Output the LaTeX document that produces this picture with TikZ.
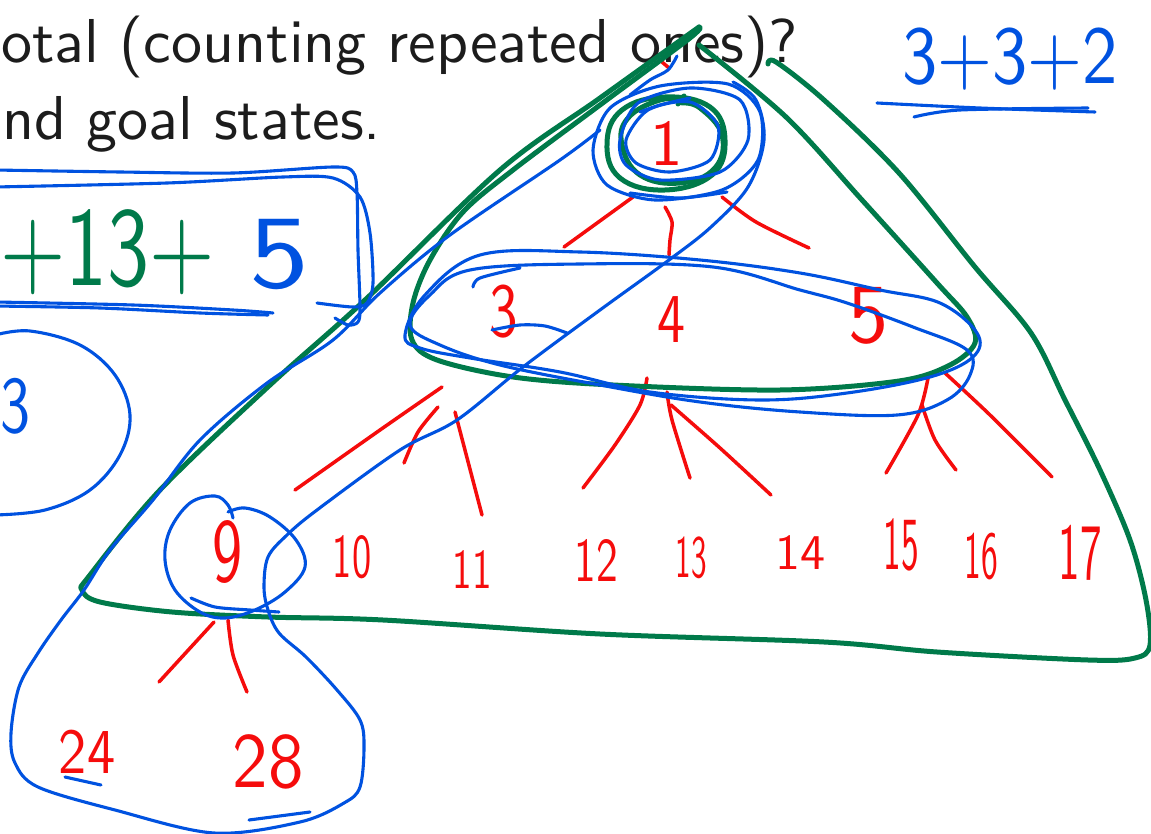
\documentclass[tikz,border=0pt]{standalone}
\usepackage{fontspec}
\usepackage{graphicx}
\newfontfamily\slidefont[Extension=.otf]{lmsans10-regular}
\definecolor{penblue}{RGB}{0,82,224}
\definecolor{pengreen}{RGB}{0,122,74}
\definecolor{penred}{RGB}{245,12,12}
\definecolor{slidetext}{RGB}{28,28,28}
\newcommand{\hwnum}[3]{{\fontsize{#1}{#1}\selectfont\scalebox{#2}[1]{#3}}}
\begin{document}
\begin{tikzpicture}[x=1pt,y=-1pt,
 bl/.style={draw=penblue,line width=3.1pt,line cap=round,line join=round},
 gr/.style={draw=pengreen,line width=5pt,line cap=round,line join=round},
 rd/.style={draw=penred,line width=3.5pt,line cap=round,line join=round},
 slide/.style={inner sep=0pt,anchor=base west,text=slidetext,font=\slidefont\fontsize{62}{70}\selectfont},
 hwred/.style={inner sep=0pt,text=penred,font=\slidefont},
 hwblue/.style={inner sep=0pt,text=penblue,font=\slidefont},
 hwgreen/.style={inner sep=0pt,text=pengreen,font=\slidefont}]
\useasboundingbox (0,0) rectangle (1151,834);
\clip (0,0) rectangle (1151,834);
\fill[white] (0,0) rectangle (1151,834);

% slide text
\node[slide] (q1) at (1,63) {otal (counting repeated ones)?};
\node[slide] (q2) at (2,140) {nd goal states.};

% red tree labels
\node[hwred] (n1) at (667,143) {\hwnum{65}{1}{1}};
\node[hwred] (n3) at (504,312) {\hwnum{76}{0.75}{3}};
\node[hwred] (n4) at (671,320) {\hwnum{70}{0.8}{4}};
\node[hwred] (n5) at (868,316) {\hwnum{84}{0.95}{5}};
\node[hwred] (n9) at (228,552) {\hwnum{90}{0.67}{9}};
\node[hwred] (n10) at (352,557) {\hwnum{62}{0.62}{10}};
\node[hwred] (n11) at (472,570) {\hwnum{56}{0.7}{11}};
\node[hwred] (n12) at (596,560) {\hwnum{62}{0.7}{12}};
\node[hwred] (n13) at (691,558) {\hwnum{60}{0.52}{13}};
\node[hwred] (n14) at (800,553) {\hwnum{50}{1}{14}};
\node[hwred] (n15) at (901,545) {\hwnum{75}{0.47}{15}};
\node[hwred] (n16) at (981,557) {\hwnum{67}{0.5}{16}};
\node[hwred] (n17) at (1080,553) {\hwnum{80}{0.54}{17}};
\node[hwred] (n24) at (87,752) {\hwnum{64}{0.88}{24}};
\node[hwred] (n28) at (268,762) {\hwnum{78}{0.91}{28}};

% red tree edges
\draw[rd] (662,62) -- (669,68);
\draw[rd] (633,197) -- (564,247);
\draw[rd] plot[smooth] coordinates {(665,207) (672,222) (670,240) (669,255)};
\draw[rd] plot[smooth] coordinates {(722,197) (756,222) (809,248)};
\draw[rd] plot[smooth] coordinates {(442,387) (380,430) (295,490)};
\draw[rd] plot[smooth] coordinates {(438,407) (418,432) (404,463)};
\draw[rd] (455,412) -- (482,515);
\draw[rd] plot[smooth] coordinates {(647,378) (640,405) (615,445) (583,488)};
\draw[rd] plot[smooth] coordinates {(667,392) (672,420) (690,478)};
\draw[rd] plot[smooth] coordinates {(671,405) (720,448) (771,495)};
\draw[rd] plot[smooth] coordinates {(928,378) (918,415) (886,473)};
\draw[rd] plot[smooth] coordinates {(922,405) (935,440) (956,470)};
\draw[rd] plot[smooth] coordinates {(945,373) (990,415) (1052,477)};
\draw[rd] (214,622) -- (159,682);
\draw[rd] plot[smooth] coordinates {(228,620) (233,655) (247,692)};

% green annotations
\node[hwgreen,anchor=west] (g1) at (0,252) {\hwnum{112}{0.75}{+13+}};
\draw[gr] plot[smooth,tension=0.55] coordinates {(768,64) (776,62) (824,100) (899,173) (975,267) (1031,333) (1065,400) (1100,470) (1130,540) (1146,600) (1150,645) (1135,658) (1088,660) (937,652) (824,642) (600,634) (383,620) (268,617) (172,612) (100,602) (82,590) (90,575) (160,490) (270,385) (365,300) (500,170) (600,98) (699,27)};
\draw[gr] plot[smooth,tension=0.55] coordinates {(699,27) (690,38) (600,105) (513,170) (463,212) (430,260) (413,303) (412,340) (437,360) (513,377) (613,385) (780,390) (899,381) (950,365) (975,343) (967,317) (937,283) (862,200) (786,117) (699,45)};
\draw[gr] plot[smooth cycle,tension=0.7] coordinates {(607,143) (622,110) (665,97) (710,107) (725,140) (712,175) (665,190) (620,178)};
\draw[gr] plot[smooth,tension=0.7] coordinates {(688,100) (660,100) (628,118) (622,145) (640,175) (680,183) (715,168) (722,135) (700,108) (682,103)};
\draw[gr] (678,104) -- (684,96);

% blue annotations
\node[hwblue] (b5) at (279,255) {\hwnum{104}{1.15}{5}};
\node[hwblue,anchor=west] (b3) at (0,406) {\hwnum{80}{0.75}{3}};
\node[hwblue,anchor=base] (sum) at (1010,84) {\hwnum{82}{0.86}{3+3+2}};
\draw[bl] plot[smooth] coordinates {(877,103) (980,108) (1095,112)};
\draw[bl] plot[smooth] coordinates {(914,117) (960,110) (1088,108)};

% box around +13+5
\draw[bl] plot[smooth,tension=0.5] coordinates {(-5,170) (120,172) (233,173) (333,167) (353,172) (357,193) (358,250) (360,307) (358,322) (348,325) (335,318)};
\draw[bl] plot[smooth,tension=0.5] coordinates {(-5,187) (167,183) (283,177) (333,178) (360,197) (370,233) (373,283) (367,303) (353,307) (317,303)};
\draw[bl] plot[smooth,tension=0.5] coordinates {(-5,302) (133,305) (233,310) (273,313)};
\draw[bl] plot[smooth,tension=0.5] coordinates {(-5,306) (100,308) (200,313) (268,315)};
% left circle
\draw[bl] plot[smooth,tension=0.6] coordinates {(-5,335) (30,331) (80,345) (115,375) (130,415) (120,455) (90,490) (45,510) (-5,515)};

% loops around 1
\draw[bl] plot[smooth cycle] coordinates {(593,150) (610,108) (660,86) (728,84) (760,112) (758,160) (722,190) (655,200) (607,185)};
\draw[bl] plot[smooth cycle] coordinates {(620,140) (638,103) (690,88) (740,100) (748,140) (720,172) (660,180) (626,165)};
\draw[bl] plot[smooth cycle] coordinates {(626,140) (648,110) (690,102) (718,126) (710,160) (670,172) (636,163)};
\draw[bl] plot[smooth] coordinates {(677,56) (668,70) (650,80) (630,95)};
\draw[bl] plot[smooth] coordinates {(640,112) (660,105) (690,98)};
\draw[bl] plot[smooth] coordinates {(630,193) (680,198) (727,192)};

% loops around 3 4 5
\draw[bl] plot[smooth cycle,tension=0.6] coordinates {(405,335) (425,295) (480,255) (580,252) (700,260) (800,273) (880,290) (940,303) (977,333) (973,357) (930,377) (847,393) (760,400) (650,392) (560,372) (470,358) (420,348)};
\draw[bl] plot[smooth cycle,tension=0.6] coordinates {(410,325) (430,295) (470,270) (580,264) (713,267) (800,290) (847,303) (913,327) (967,350) (970,375) (947,400) (897,415) (800,412) (700,402) (600,385) (500,365) (440,345)};
\draw[bl] plot[smooth] coordinates {(473,287) (480,278) (520,268)};
\draw[bl] plot[smooth] coordinates {(492,330) (520,325) (545,326) (567,333)};

% big loop from 1 down to 9, 24, 28
\draw[bl] plot[smooth,tension=0.55] coordinates {(600,130) (560,160) (450,235) (380,293) (333,340) (267,383) (200,440) (153,500) (110,550) (84,590) (61,620) (38,653) (19,687) (11,733) (15,763) (38,787) (115,810) (214,833) (300,822) (344,803) (360,787) (364,747) (360,720) (337,690) (306,657) (279,633) (268,610) (264,587) (268,557) (287,535) (317,510) (400,450) (457,420) (523,367) (600,310) (669,260) (711,227) (748,187) (764,140) (756,100) (733,82)};
% loop around 9
\draw[bl] plot[smooth,tension=0.6] coordinates {(233,518) (228,505) (215,496) (190,503) (170,530) (165,560) (175,590) (200,612) (225,618) (255,610) (285,592) (305,567) (296,540) (270,517) (245,508) (228,512)};
\draw[bl] plot[smooth] coordinates {(191,598) (215,607) (250,610) (279,612)};
\draw[bl] (65,777) -- (101,785);
\draw[bl] (249,820) -- (310,812);
\end{tikzpicture}
\end{document}
